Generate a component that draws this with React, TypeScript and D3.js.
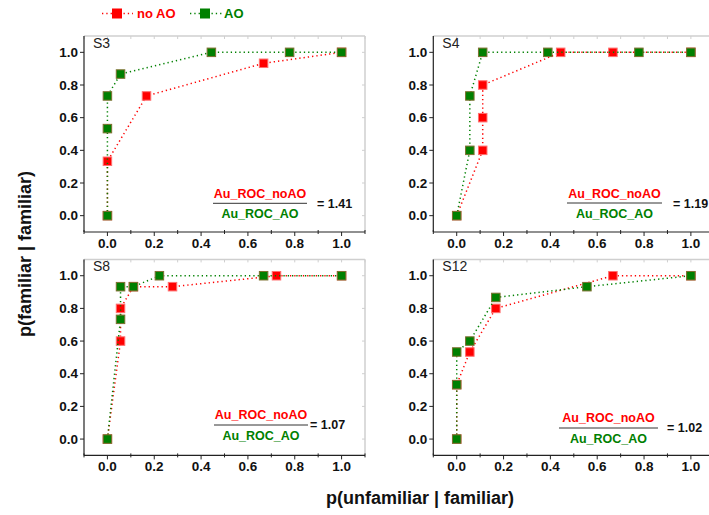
import React from "react";
import * as d3 from "d3";

// ---- data ----
const panelNames = ["S3", "S4", "S8", "S12"];
const ratioValues = ["1.41", "1.19", "1.07", "1.02"];
const seriesNames = ["no AO", "AO"];

const s3NoAO: [number, number][] = [[0, 0], [0, 0.333], [0.167, 0.733], [0.667, 0.933], [1, 1]];
const s3AO: [number, number][] = [[0, 0], [0, 0.533], [0, 0.733], [0.056, 0.867], [0.444, 1], [0.778, 1], [1, 1]];

const s4NoAO: [number, number][] = [[0, 0], [0.111, 0.4], [0.111, 0.6], [0.111, 0.8], [0.444, 1], [0.667, 1], [1, 1]];
const s4AO: [number, number][] = [[0, 0], [0.056, 0.4], [0.056, 0.733], [0.111, 1], [0.389, 1], [0.778, 1], [1, 1]];

const s8NoAO: [number, number][] = [[0, 0], [0.056, 0.6], [0.056, 0.8], [0.111, 0.933], [0.278, 0.933], [0.722, 1], [1, 1]];
const s8AO: [number, number][] = [[0, 0], [0.056, 0.733], [0.056, 0.933], [0.111, 0.933], [0.222, 1], [0.667, 1], [1, 1]];

const s12NoAO: [number, number][] = [[0, 0], [0, 0.333], [0.056, 0.533], [0.167, 0.8], [0.667, 1], [1, 1]];
const s12AO: [number, number][] = [[0, 0], [0, 0.333], [0, 0.533], [0.056, 0.6], [0.167, 0.867], [0.556, 0.933], [1, 1]];

const noAOSeries = [s3NoAO, s4NoAO, s8NoAO, s12NoAO];
const aoSeries = [s3AO, s4AO, s8AO, s12AO];

const majorTicks = [0, 0.2, 0.4, 0.6, 0.8, 1.0];
const minorTicks = [-0.1, 0.1, 0.3, 0.5, 0.7, 0.9, 1.1];

// ---- layout ----
const W = 709;
const H = 515;
const PW = 281;
const PH = 196;
const panelOrigins = [
  { left: 84, top: 36 },
  { left: 433.3, top: 36 },
  { left: 84, top: 259.4 },
  { left: 433.3, top: 259.4 },
];
const fracLayout = [
  { x0: 129, x1: 223, y: 167.3, eqX: 233 },
  { x0: 133.7, x1: 228.7, y: 167, eqX: 239.7 },
  { x0: 130, x1: 224, y: 165.6, eqX: 226 },
  { x0: 125.7, x1: 224.7, y: 168.6, eqX: 233.7 },
];

const RED = "#ff0000";
const GREEN = "#008000";
const RED_EDGE = "#ff7070";
const GREEN_EDGE = "#7d7030";
const FONT = "'Liberation Sans', Arial, Helvetica, sans-serif";
const fmt = d3.format(".1f");

function Series({ pts, x, y, color, edge }: any) {
  const line = d3.line<[number, number]>().x((d) => x(d[0])).y((d) => y(d[1]));
  const s = 8.5;
  return (
    <g>
      <path d={line(pts) || ""} fill="none" stroke={color} strokeWidth={1.5} strokeDasharray="1.3 3" />
      {pts.map((d: [number, number], i: number) => (
        <rect key={i} x={x(d[0]) - s / 2} y={y(d[1]) - s / 2} width={s} height={s} fill={color} stroke={edge} strokeWidth={1} />
      ))}
    </g>
  );
}

function Panel({ idx }: { idx: number }) {
  const { left, top } = panelOrigins[idx];
  const x = d3.scaleLinear().domain([-0.1, 1.1]).range([0, PW]);
  const y = d3.scaleLinear().domain([-0.1, 1.1]).range([PH, 0]);
  const fl = fracLayout[idx];
  const fc = (fl.x0 + fl.x1) / 2;
  const gray = "#cfcfcf";
  return (
    <g transform={`translate(${left},${top})`} fontFamily={FONT}>
      {/* gray top/right frame */}
      <line x1={0} x2={PW} y1={0} y2={0} stroke={gray} strokeWidth={1.5} />
      <line x1={PW} x2={PW} y1={0} y2={PH} stroke={gray} strokeWidth={1.5} />
      {majorTicks.concat(minorTicks).map((t, i) => (
        <line key={"tt" + i} x1={x(t)} x2={x(t)} y1={0} y2={3} stroke={gray} strokeWidth={1} />
      ))}
      {majorTicks.map((t, i) => (
        <line key={"rt" + i} x1={PW} x2={PW - 3} y1={y(t)} y2={y(t)} stroke={gray} strokeWidth={1} />
      ))}
      {/* axes */}
      <line x1={0} x2={PW} y1={PH} y2={PH} stroke="#222" strokeWidth={1.2} />
      <line x1={0} x2={0} y1={0} y2={PH} stroke="#222" strokeWidth={1.2} />
      {majorTicks.map((t, i) => (
        <g key={"xt" + i}>
          <line x1={x(t)} x2={x(t)} y1={PH} y2={PH + 4} stroke="#222" strokeWidth={1} />
          <text x={x(t)} y={PH + 15.5} textAnchor="middle" fontSize={13.5} fontWeight="bold" fill="#111">
            {fmt(t)}
          </text>
        </g>
      ))}
      {minorTicks.map((t, i) => (
        <line key={"xm" + i} x1={x(t)} x2={x(t)} y1={PH - 2} y2={PH + 2} stroke="#222" strokeWidth={1} />
      ))}
      {majorTicks.map((t, i) => (
        <g key={"yt" + i}>
          <line x1={0} x2={-4} y1={y(t)} y2={y(t)} stroke="#222" strokeWidth={1} />
          <text x={-6} y={y(t) + 4.7} textAnchor="end" fontSize={13.5} fontWeight="bold" fill="#111">
            {fmt(t)}
          </text>
        </g>
      ))}
      <text x={9} y={12} fontSize={14} fill="#222">
        {panelNames[idx]}
      </text>
      <Series pts={noAOSeries[idx]} x={x} y={y} color={RED} edge={RED_EDGE} />
      <Series pts={aoSeries[idx]} x={x} y={y} color={GREEN} edge={GREEN_EDGE} />
      {/* fraction */}
      <text x={fc} y={fl.y - 5.5} textAnchor="middle" fontSize={12.5} fontWeight="bold" fill={RED}>
        Au_ROC_noAO
      </text>
      <line x1={fl.x0} x2={fl.x1} y1={fl.y} y2={fl.y} stroke="#333" strokeWidth={1} />
      <text x={fc} y={fl.y + 15} textAnchor="middle" fontSize={12.5} fontWeight="bold" fill={GREEN}>
        Au_ROC_AO
      </text>
      <text x={fl.eqX} y={fl.y + 4.5} fontSize={12.5} fontWeight="bold" fill="#111">
        {"= " + ratioValues[idx]}
      </text>
    </g>
  );
}

export default function App() {
  return (
    <svg
      width={W}
      height={H}
      style={{ position: "absolute", left: 0, top: 0, background: "#fff", overflow: "hidden" }}
      fontFamily={FONT}
    >
      <rect x={0} y={0} width={W} height={H} fill="#fff" />
      {/* legend */}
      <g>
        <line x1={102} x2={133} y1={13.5} y2={13.5} stroke={RED} strokeWidth={1.5} strokeDasharray="1.3 3" />
        <rect x={112} y={8.5} width={10} height={10} fill={RED} />
        <text x={137} y={18} fontSize={13} fontWeight="bold" fill={RED}>
          {seriesNames[0]}
        </text>
        <line x1={190} x2={222} y1={13.5} y2={13.5} stroke={GREEN} strokeWidth={1.5} strokeDasharray="1.3 3" />
        <rect x={200} y={8.5} width={10} height={10} fill={GREEN} />
        <text x={224} y={18} fontSize={13} fontWeight="bold" fill={GREEN}>
          {seriesNames[1]}
        </text>
      </g>
      {panelNames.map((_, i) => (
        <Panel key={i} idx={i} />
      ))}
      <text
        transform="translate(31,254) rotate(-90)"
        textAnchor="middle"
        fontSize={18}
        fontWeight="bold"
        fill="#111"
      >
        p(familiar | familiar)
      </text>
      <text x={420} y={504} textAnchor="middle" fontSize={18} fontWeight="bold" fill="#111">
        p(unfamiliar | familiar)
      </text>
    </svg>
  );
}
